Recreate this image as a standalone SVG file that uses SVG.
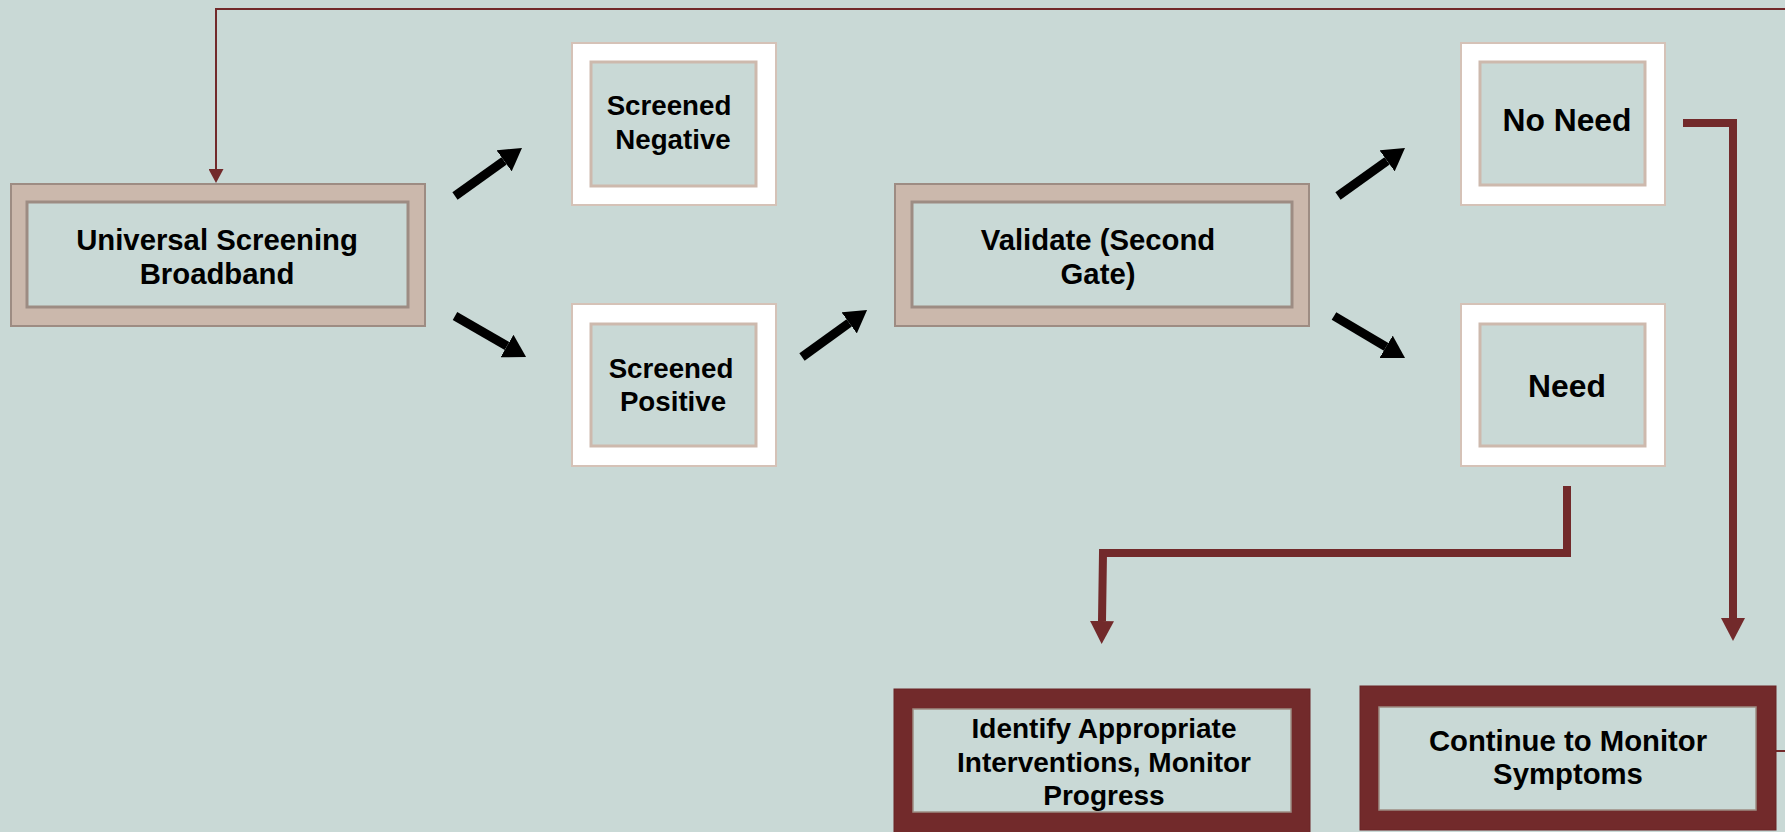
<svg xmlns="http://www.w3.org/2000/svg" width="1785" height="832" viewBox="0 0 1785 832">
  <style>
    .label { font-family: "Liberation Sans", Arial, sans-serif; font-weight: bold; font-size: 29.3px; fill: #000; text-anchor: middle; }
    .small { font-size: 27.7px; }
    .mid { font-size: 28px; }
    .big { font-size: 31.8px; }
    .tan-outer { fill: #cbb8ac; stroke: #9d8c83; stroke-width: 2; }
    .tan-inner { fill: #c9d9d6; stroke: #9d8c83; stroke-width: 3; }
    .white-outer { fill: #ffffff; stroke: #d5c2b7; stroke-width: 2; }
    .white-inner { fill: #c9d9d6; stroke: #cdb9ad; stroke-width: 3; }
    .red-outer { fill: #722a2b; stroke: #6a2526; stroke-width: 1; }
    .red-inner { fill: #c9d9d6; stroke: #9d8c83; stroke-width: 1.5; }
    .black-arrow { stroke: #000; stroke-width: 9; fill: none; marker-end: url(#blackHead); }
    .red-thick { stroke: #722a2b; stroke-width: 8; fill: none; stroke-linejoin: miter; }
    .red-thin { stroke: #722a2b; stroke-width: 2; fill: none; }
  </style>
  <defs>
    <marker id="blackHead" markerUnits="userSpaceOnUse" markerWidth="22" markerHeight="26" viewBox="0 0 22 26" refX="0" refY="13" orient="auto">
      <path d="M0,0 L22,13 L0,26 z" fill="#000"/>
    </marker>
    <marker id="redHead" markerUnits="userSpaceOnUse" markerWidth="23" markerHeight="24" viewBox="0 0 23 24" refX="0" refY="12" orient="auto">
      <path d="M0,0 L23,12 L0,24 z" fill="#722a2b"/>
    </marker>
    <marker id="redHeadSmall" markerUnits="userSpaceOnUse" markerWidth="14" markerHeight="15" viewBox="0 0 14 15" refX="0" refY="7.5" orient="auto">
      <path d="M0,0 L14,7.5 L0,15 z" fill="#722a2b"/>
    </marker>
  </defs>

  <!-- background -->
  <rect x="0" y="0" width="1785" height="832" fill="#c9d9d6"/>

  <!-- connectors -->
  <g id="connectors">
    <line class="black-arrow" x1="455" y1="196" x2="504.1" y2="160.8"/>
    <line class="black-arrow" x1="455" y1="316" x2="507" y2="346"/>
    <line class="black-arrow" x1="802" y1="357" x2="849.2" y2="322.9"/>
    <line class="black-arrow" x1="1338" y1="196" x2="1387.1" y2="160.8"/>
    <line class="black-arrow" x1="1334" y1="316" x2="1386.1" y2="346.8"/>
    <!-- No Need to Continue to Monitor -->
    <path class="red-thick" d="M1683,123 H1733 V618" marker-end="url(#redHead)"/>
    <!-- Need to Identify Appropriate Interventions -->
    <path class="red-thick" d="M1567,486 V553 H1103 L1102,621" marker-end="url(#redHead)"/>
    <!-- loop back from monitoring to universal screening -->
    <path class="red-thin" d="M1776,751 H1792 V9 H216 V169" marker-end="url(#redHeadSmall)"/>
  </g>

  <g id="universal-screening">
    <rect class="tan-outer" x="11" y="184" width="414" height="142"/>
    <rect class="tan-inner" x="27" y="202" width="381" height="105"/>
    <text class="label" x="217" y="250">Universal Screening</text>
    <text class="label" x="217" y="284">Broadband</text>
  </g>

  <g id="screened-negative">
    <rect class="white-outer" x="572" y="43" width="204" height="162"/>
    <rect class="white-inner" x="591" y="62" width="165" height="124"/>
    <text class="label small" x="669" y="115">Screened</text>
    <text class="label small" x="673" y="149">Negative</text>
  </g>

  <g id="screened-positive">
    <rect class="white-outer" x="572" y="304" width="204" height="162"/>
    <rect class="white-inner" x="591" y="324" width="165" height="122"/>
    <text class="label small" x="671" y="378">Screened</text>
    <text class="label small" x="673" y="411">Positive</text>
  </g>

  <g id="validate">
    <rect class="tan-outer" x="895" y="184" width="414" height="142"/>
    <rect class="tan-inner" x="912" y="202" width="380" height="105"/>
    <text class="label" x="1098" y="250">Validate (Second</text>
    <text class="label" x="1098" y="284">Gate)</text>
  </g>

  <g id="no-need">
    <rect class="white-outer" x="1461" y="43" width="204" height="162"/>
    <rect class="white-inner" x="1480" y="62" width="165" height="123"/>
    <text class="label big" x="1567" y="131">No Need</text>
  </g>

  <g id="need">
    <rect class="white-outer" x="1461" y="304" width="204" height="162"/>
    <rect class="white-inner" x="1480" y="324" width="165" height="122"/>
    <text class="label big" x="1567" y="397">Need</text>
  </g>

  <g id="identify-interventions">
    <rect class="red-outer" x="894" y="689" width="416" height="160"/>
    <rect class="red-inner" x="913" y="709" width="378" height="103"/>
    <text class="label mid" x="1104" y="738">Identify Appropriate</text>
    <text class="label mid" x="1104" y="772">Interventions, Monitor</text>
    <text class="label mid" x="1104" y="805">Progress</text>
  </g>

  <g id="continue-monitoring">
    <rect class="red-outer" x="1360" y="686" width="416" height="144"/>
    <rect class="red-inner" x="1379" y="707" width="377" height="103"/>
    <text class="label" x="1568" y="751">Continue to Monitor</text>
    <text class="label" x="1568" y="784">Symptoms</text>
  </g>
</svg>
